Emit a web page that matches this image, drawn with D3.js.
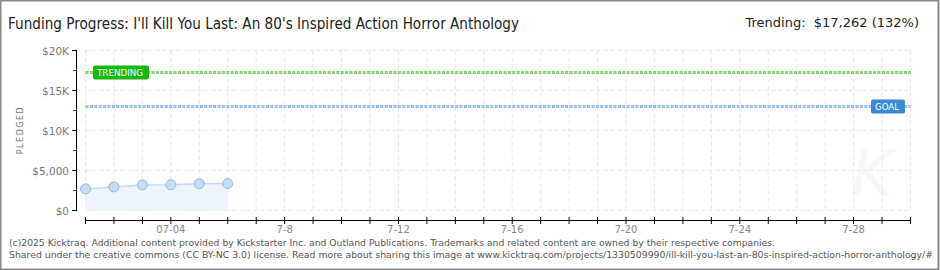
<!DOCTYPE html>
<html>
<head>
<meta charset="utf-8">
<script src="https://cdn.jsdelivr.net/npm/d3@7"></script>
<style>
	body { margin: 0; background: #fff; }
	svg { display: block; }
	text { font-family: "DejaVu Sans", sans-serif; }
</style>
</head>
<body>
<div id="chart"></div>
<script>
// funding data
const dates = ["2025-07-01", "2025-07-02", "2025-07-03", "2025-07-04", "2025-07-05", "2025-07-06"];
const pledged = [2700, 2950, 3200, 3220, 3350, 3360];
const goal = 13000;
const trending = 17262;
const yTicks = [0, 5000, 10000, 15000, 20000];
const yTickLabels = ["$0", "$5,000", "$10K", "$15K", "$20K"];
const yMinorTicks = [2500, 7500, 12500, 17500];
const xLabelDates = ["2025-07-04", "2025-07-08", "2025-07-12", "2025-07-16", "2025-07-20", "2025-07-24", "2025-07-28"];
const xLabels = ["07-04", "7-8", "7-12", "7-16", "7-20", "7-24", "7-28"];

const title = "Funding Progress: I'll Kill You Last: An 80's Inspired Action Horror Anthology";
const footer = [
	"(c)2025 Kicktraq. Additional content provided by Kickstarter Inc. and Outland Publications. Trademarks and related content are owned by their respective companies.",
	"Shared under the creative commons (CC BY-NC 3.0) license. Read more about sharing this image at www.kicktraq.com/projects/1330509990/ill-kill-you-last-an-80s-inspired-action-horror-anthology/#"
];

const w = 940, h = 270;
const parse = d3.timeParse("%Y-%m-%d");
const narrow = "DejaVu Sans Condensed, sans-serif";

let svg = d3.select("#chart").append("svg")
	.attr("width", w)
	.attr("height", h);

// frame
svg.append("rect")
	.attr("x", 0.5).attr("y", 0.5)
	.attr("width", w - 2).attr("height", h - 1)
	.attr("fill", "#fff")
	.attr("stroke", "#888")
	.attr("stroke-width", 2);

let x = d3.scaleTime()
	.domain([parse("2025-07-01"), parse("2025-07-30")])
	.range([85.5, 910.5]);

let y = d3.scaleLinear()
	.domain([0, 20000])
	.range([210.5, 50.5]);

let days = d3.timeDay.range(parse("2025-07-01"), d3.timeDay.offset(parse("2025-07-30"), 1));

// watermark
svg.append("text")
	.attr("x", 872).attr("y", 196)
	.attr("text-anchor", "middle")
	.attr("font-family", "DejaVu Serif")
	.attr("font-style", "italic")
	.attr("font-size", 64)
	.attr("fill", "#f7f7f7")
	.text("K");

// gridlines
let grid = svg.append("g");
grid.selectAll("line.v")
	.data(days)
	.enter().append("line")
	.attr("x1", (d) => x(d)).attr("x2", (d) => x(d))
	.attr("y1", y(20000)).attr("y2", y(0))
	.attr("stroke", "#e6e6e6")
	.attr("stroke-dasharray", "4,3");

grid.selectAll("line.h")
	.data(yTicks)
	.enter().append("line")
	.attr("x1", x.range()[0]).attr("x2", x.range()[1])
	.attr("y1", (d) => y(d)).attr("y2", (d) => y(d))
	.attr("stroke", "#e6e6e6")
	.attr("stroke-dasharray", "4,3");

// pledged area + line
let series = dates.map((d, i) => ({ date: parse(d), value: pledged[i] }));

svg.append("path")
	.datum(series)
	.attr("d", d3.area().x((d) => x(d.date)).y0(y(0)).y1((d) => y(d.value)))
	.attr("fill", "#edf4fd");

svg.append("path")
	.datum(series)
	.attr("d", d3.line().x((d) => x(d.date)).y((d) => y(d.value)))
	.attr("fill", "none")
	.attr("stroke", "#c2d9f3")
	.attr("stroke-width", 1.5);

// goal + trending lines
function refLine(value, outer, inner) {
	svg.append("line")
		.attr("x1", x.range()[0]).attr("x2", x.range()[1])
		.attr("y1", y(value)).attr("y2", y(value))
		.attr("stroke", outer)
		.attr("stroke-width", 3)
		.attr("stroke-dasharray", "3,1.4");
	svg.append("line")
		.attr("x1", x.range()[0]).attr("x2", x.range()[1])
		.attr("y1", y(value)).attr("y2", y(value))
		.attr("stroke", inner)
		.attr("stroke-width", 1)
		.attr("stroke-dasharray", "1,3.4")
		.attr("stroke-dashoffset", -1);
}
refLine(trending, "#74d163", "#b9ebad");
refLine(goal, "#94b8e1", "#cadef3");

function tag(cx, value, width, label, fill) {
	let cy = y(value);
	svg.append("rect")
		.attr("x", cx).attr("y", cy - 7)
		.attr("width", width).attr("height", 14)
		.attr("rx", 2)
		.attr("fill", fill);
	svg.append("text")
		.attr("x", cx + 4).attr("y", cy + 3.5)
		.attr("font-size", 9)
		.attr("textLength", width - 10)
		.attr("lengthAdjust", "spacingAndGlyphs")
		.attr("fill", "#fff")
		.text(label);
}
tag(93, trending, 56, "TRENDING", "#19b80f");
tag(871, goal, 34, "GOAL", "#3a8ad8");

// points
svg.selectAll("circle")
	.data(series)
	.enter().append("circle")
	.attr("cx", (d) => x(d.date))
	.attr("cy", (d) => y(d.value))
	.attr("r", 5)
	.attr("fill", "#c6dcf6")
	.attr("stroke", "#98b6d8")
	.attr("stroke-width", 1);

// y axis
let yAxis = svg.append("g");
yAxis.append("line")
	.attr("x1", 76.5).attr("x2", 76.5)
	.attr("y1", y(20000)).attr("y2", y(0))
	.attr("stroke", "#000");
yAxis.selectAll("line.major")
	.data(yTicks)
	.enter().append("line")
	.attr("x1", 72).attr("x2", 77)
	.attr("y1", (d) => y(d)).attr("y2", (d) => y(d))
	.attr("stroke", "#000");
yAxis.selectAll("line.minor")
	.data(yMinorTicks)
	.enter().append("line")
	.attr("x1", 73).attr("x2", 76)
	.attr("y1", (d) => y(d)).attr("y2", (d) => y(d))
	.attr("stroke", "#e00");
yAxis.selectAll("text")
	.data(yTicks)
	.enter().append("text")
	.attr("x", 69)
	.attr("y", (d) => y(d) + 4)
	.attr("text-anchor", "end")
	.attr("font-size", 10.5)
	.attr("fill", "#777")
	.text((d, i) => yTickLabels[i]);

svg.append("text")
	.attr("transform", "translate(23,130) rotate(-90)")
	.attr("text-anchor", "middle")
	.attr("font-size", 8)
	.attr("letter-spacing", 1.5)
	.attr("fill", "#777")
	.text("PLEDGED");

// x axis
let xAxis = svg.append("g");
xAxis.append("line")
	.attr("x1", x.range()[0]).attr("x2", x.range()[1])
	.attr("y1", 220.5).attr("y2", 220.5)
	.attr("stroke", "#000");
xAxis.selectAll("line.tick")
	.data(days)
	.enter().append("line")
	.attr("x1", (d) => x(d)).attr("x2", (d) => x(d))
	.attr("y1", 217).attr("y2", 224)
	.attr("stroke", "#000");
xAxis.selectAll("text")
	.data(xLabelDates)
	.enter().append("text")
	.attr("x", (d) => x(parse(d)))
	.attr("y", 233)
	.attr("text-anchor", "middle")
	.attr("font-size", 10)
	.attr("fill", "#888")
	.text((d, i) => xLabels[i]);

// title + trending
svg.append("text")
	.attr("x", 8).attr("y", 29)
	.attr("font-family", narrow)
	.attr("font-size", 15)
	.attr("textLength", 511)
	.attr("lengthAdjust", "spacingAndGlyphs")
	.attr("fill", "#222")
	.text(title);

svg.append("text")
	.attr("x", 919).attr("y", 27)
	.attr("text-anchor", "end")
	.attr("font-family", narrow)
	.attr("font-size", 13)
	.attr("fill", "#222")
	.text("Trending:\u00a0\u00a0$17,262 (132%)");

// footer
svg.selectAll("text.footer")
	.data(footer)
	.enter().append("text")
	.attr("class", "footer")
	.attr("x", 9)
	.attr("y", (d, i) => 246 + i * 12)
	.attr("font-family", narrow)
	.attr("font-size", 9)
	.attr("textLength", (d, i) => i == 0 ? 766 : 924)
	.attr("lengthAdjust", "spacingAndGlyphs")
	.attr("fill", "#555")
	.text((d) => d);
</script>
</body>
</html>
